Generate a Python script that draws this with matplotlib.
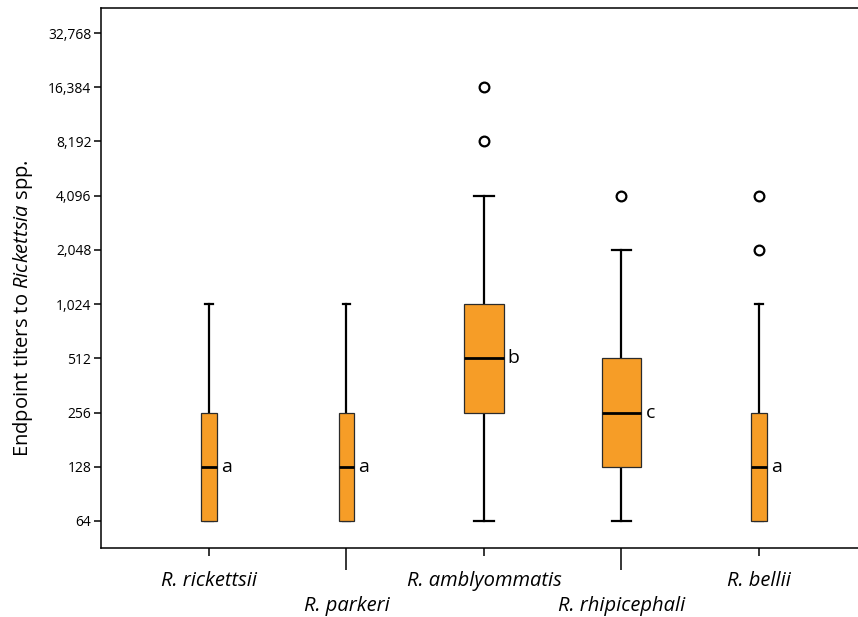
import matplotlib
matplotlib.use('Agg')
import matplotlib.pyplot as plt
from matplotlib.ticker import FixedLocator, FuncFormatter

# Data (titers)
species = ['R. rickettsii', 'R. parkeri', 'R. amblyommatis', 'R. rhipicephali', 'R. bellii']
whisker_low = [64, 64, 64, 64, 64]
q1 = [64, 64, 256, 128, 64]
median = [128, 128, 512, 256, 128]
q3 = [256, 256, 1024, 512, 256]
whisker_high = [1024, 1024, 4096, 2048, 1024]
outliers = [[], [], [8192, 16384], [4096], [2048, 4096]]
letters = ['a', 'a', 'b', 'c', 'a']
y_ticks = [64, 128, 256, 512, 1024, 2048, 4096, 8192, 16384, 32768]

box_widths = [0.116, 0.116, 0.284, 0.29, 0.116]

plt.rcParams['font.family'] = 'Open Sans'
plt.rcParams['mathtext.fontset'] = 'custom'
plt.rcParams['mathtext.rm'] = 'Open Sans'
plt.rcParams['mathtext.it'] = 'Open Sans:italic'

fig = plt.figure(figsize=(8.58, 6.17), dpi=100)
ax = fig.add_axes([0.1177, 0.1118, 0.8823, 0.8752])

stats = []
for i in range(len(species)):
    stats.append({'whislo': whisker_low[i], 'q1': q1[i], 'med': median[i],
                  'q3': q3[i], 'whishi': whisker_high[i], 'fliers': outliers[i]})

pos = list(range(1, len(species) + 1))
ax.bxp(stats, positions=pos, widths=box_widths,
       capwidths=[w * 0.5 for w in box_widths],
       patch_artist=True,
       boxprops=dict(facecolor='#F69D27', edgecolor='#2b2b2b', linewidth=0.9, zorder=3),
       medianprops=dict(color='black', linewidth=2.0, zorder=4),
       whiskerprops=dict(color='black', linewidth=1.6, zorder=2),
       capprops=dict(color='black', linewidth=1.6, zorder=2),
       flierprops=dict(marker='o', markerfacecolor='white', markeredgecolor='black',
                       markersize=7, markeredgewidth=1.6))

for i in range(len(species)):
    ax.text(pos[i] + box_widths[i] / 2 + 0.03, median[i], letters[i],
            ha='left', va='center', fontsize=14)

ax.set_yscale('log', base=2)
ax.set_ylim(45.3, 45100)
ax.yaxis.set_major_locator(FixedLocator(y_ticks))
ax.yaxis.set_minor_locator(FixedLocator([]))
ax.yaxis.set_major_formatter(FuncFormatter(lambda v, p: '{:,}'.format(int(round(v)))))
ax.tick_params(axis='y', length=5, width=1.1, labelsize=10, pad=2)

ax.set_xlim(0.2145, 5.72)
ax.set_xticks([1, 3, 5], [species[0], species[2], species[4]])
ax.set_xticks([2, 4], [species[1], species[3]], minor=True)
ax.tick_params(axis='x', which='major', length=6, width=1.1, labelsize=14.5, pad=10.5)
ax.tick_params(axis='x', which='minor', length=16, width=1.1, labelsize=14.5, pad=18.5)
for lab in ax.get_xticklabels(which='both'):
    lab.set_fontstyle('italic')

fig.text(23 / 858, 1 - 308 / 617, 'Endpoint titers to $\\it{Rickettsia}$ spp.',
         rotation=90, ha='center', va='center', fontsize=14.5)

ax.spines['right'].set_visible(False)
for s in ['left', 'bottom', 'top']:
    ax.spines[s].set_linewidth(1.1)

fig.savefig('out.png', dpi=100)
